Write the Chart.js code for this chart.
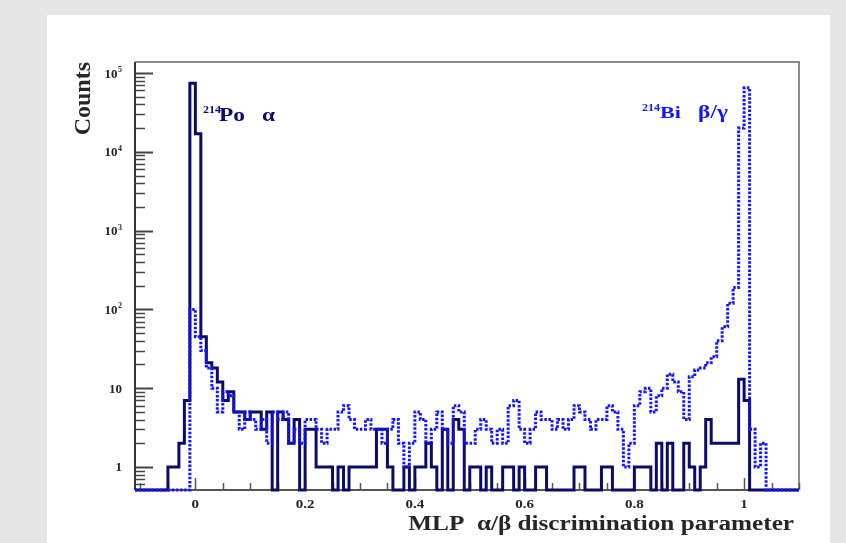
<!DOCTYPE html>
<html>
<head>
<meta charset="utf-8">
<script src="https://cdn.jsdelivr.net/npm/chart.js@4/dist/chart.umd.min.js"></script>
<style>
  html, body { margin: 0; padding: 0; background: #e6e6e6; }
  body { width: 846px; height: 543px; position: relative; overflow: hidden; }
  #panel { position: absolute; left: 47px; top: 15px; width: 783px; height: 528px; background: #ffffff; }
  #plot { position: absolute; left: 0; top: 0; }
</style>
</head>
<body>
<div id="panel"></div>
<canvas id="plot" width="846" height="543"></canvas>
<script>
// Histogram binning: 121 bins of width 0.01 starting at -0.11
const binLow = -0.11;
const binWidth = 0.01;

// 214Po alpha events per bin (solid line)
const alphaCounts = [
  0, 0, 0, 0, 0, 0, 1, 1, 2, 7,                 // -0.11 .. -0.02
  74000, 17000, 45, 21, 18, 12, 7, 9, 5, 5,     // -0.01 .. 0.08
  4, 5, 5, 3, 5, 0, 5, 4, 2, 4,                 // 0.09 .. 0.18
  0, 3, 3, 1, 1, 1, 0, 1, 0, 1,                 // 0.19 .. 0.28
  1, 1, 1, 1, 3, 3, 1, 0, 0, 1,                 // 0.29 .. 0.38
  0, 1, 1, 2, 1, 0, 3, 0, 4, 3,                 // 0.39 .. 0.48
  0, 1, 1, 0, 1, 0, 0, 1, 1, 0,                 // 0.49 .. 0.58
  1, 0, 0, 1, 1, 0, 0, 0, 0, 0,                 // 0.59 .. 0.68
  1, 1, 0, 0, 0, 1, 1, 0, 0, 0,                 // 0.69 .. 0.78
  0, 1, 1, 1, 0, 2, 0, 2, 0, 0,                 // 0.79 .. 0.88
  2, 1, 0, 1, 4, 2, 2, 2, 2, 2,                 // 0.89 .. 0.98
  13, 7, 0, 0, 0, 0, 0, 0, 0, 0,                // 0.99 .. 1.08
  0                                             // 1.09
];

// 214Bi beta/gamma events per bin (dotted line)
const betaCounts = [
  0, 0, 0, 0, 0, 0, 0, 0, 0, 0,                 // -0.11 .. -0.02
  100, 45, 30, 18, 10, 5, 9, 8, 5, 3,           // -0.01 .. 0.08
  5, 4, 3, 4, 2, 5, 4, 5, 2, 3,                 // 0.09 .. 0.18
  2, 4, 4, 3, 2, 3, 3, 5, 6, 4,                 // 0.19 .. 0.28
  3, 3, 4, 3, 3, 2, 3, 4, 2, 1,                 // 0.29 .. 0.38
  2, 5, 4, 2, 3, 5, 3, 2, 6, 5,                 // 0.39 .. 0.48
  2, 2, 3, 4, 3, 2, 3, 2, 6, 7,                 // 0.49 .. 0.58
  3, 2, 3, 5, 4, 4, 3, 4, 3, 4,                 // 0.59 .. 0.68
  6, 5, 4, 3, 4, 4, 6, 5, 3, 1,                 // 0.69 .. 0.78
  2, 6, 9, 10, 5, 8, 10, 15, 12, 9,             // 0.79 .. 0.88
  4, 14, 17, 18, 21, 25, 40, 60, 120, 190,      // 0.89 .. 0.98
  20000, 65000, 3, 1, 2, 0, 0, 0, 0, 0,         // 0.99 .. 1.08
  0                                             // 1.09
];

// Axis ranges and labelled ticks
const xRange = [-0.11, 1.10];
const yRange = [0.51, 1.38e5];
const xTickValues = [0, 0.2, 0.4, 0.6, 0.8, 1];
const xTickLabels = ['0', '0.2', '0.4', '0.6', '0.8', '1'];
const yTickValues = [1, 10, 100, 1000, 10000, 100000];
const yTickBase = ['1', '10', '10', '10', '10', '10'];
const yTickExp = ['', '', '2', '3', '4', '5'];

const SERIF = '"Liberation Serif", "DejaVu Serif", serif';
const TEXT = '#262626';
const ALPHA_COLOR = '#0b0b6b';
const BETA_COLOR = '#1414ff';

// Turn bin contents into step points at the bin edges; empty bins sit on the frame floor.
function histPoints(counts) {
  const pts = counts.map((c, k) => ({
    x: Math.round((binLow + k * binWidth) * 1000) / 1000,
    y: c > 0 ? c : yRange[0]
  }));
  const last = counts[counts.length - 1];
  pts.push({ x: Math.round((binLow + counts.length * binWidth) * 1000) / 1000, y: last > 0 ? last : yRange[0] });
  return pts;
}

// Draws text stretched horizontally by sx
function stretchedText(ctx, text, x, y, font, color, align, sx) {
  ctx.save();
  ctx.font = font;
  ctx.fillStyle = color;
  ctx.textBaseline = 'alphabetic';
  ctx.textAlign = 'left';
  const w = ctx.measureText(text).width * sx;
  const x0 = align === 'right' ? x - w : align === 'center' ? x - w / 2 : x;
  ctx.translate(x0, y);
  ctx.scale(sx, 1);
  ctx.fillText(text, 0, 0);
  ctx.restore();
  return w;
}

// Frame, inward ticks and labels in the classic ROOT look
const rootAxes = {
  id: 'rootAxes',
  beforeDatasetsDraw(chart) {
    const { ctx, chartArea: a, scales: { x, y } } = chart;
    ctx.save();
    ctx.lineCap = 'butt';
    // top and right frame edges
    ctx.strokeStyle = '#8c8c8c';
    ctx.lineWidth = 2;
    ctx.beginPath();
    ctx.moveTo(a.left, a.top);
    ctx.lineTo(a.right, a.top);
    ctx.lineTo(a.right, a.bottom);
    ctx.stroke();
    // y axis
    ctx.strokeStyle = '#333333';
    ctx.lineWidth = 2;
    ctx.beginPath();
    ctx.moveTo(a.left, a.top);
    ctx.lineTo(a.left, a.bottom);
    ctx.stroke();
    // x axis
    ctx.strokeStyle = '#555555';
    ctx.lineWidth = 2;
    ctx.beginPath();
    ctx.moveTo(a.left, a.bottom);
    ctx.lineTo(a.right, a.bottom);
    ctx.stroke();

    // log ticks on the y axis
    ctx.strokeStyle = '#444444';
    for (let d = -1; d <= 5; d++) {
      for (let m = 1; m <= 9; m++) {
        const v = m * Math.pow(10, d);
        if (v < yRange[0] || v > yRange[1]) continue;
        const py = Math.round(y.getPixelForValue(v)) + 0.5;
        const len = m === 1 ? 18 : 10;
        ctx.lineWidth = m === 1 ? 2 : 1.5;
        ctx.beginPath();
        ctx.moveTo(a.left, py);
        ctx.lineTo(a.left + len, py);
        ctx.stroke();
      }
    }
    // x ticks every 0.05, long ones every 0.2
    ctx.strokeStyle = '#555555';
    ctx.lineWidth = 1.5;
    for (let i = -2; i <= 22; i++) {
      const v = i * 0.05;
      if (v < xRange[0] || v > xRange[1]) continue;
      const px = Math.round(x.getPixelForValue(v)) + 0.5;
      const len = i % 4 === 0 ? 12 : 7;
      ctx.beginPath();
      ctx.moveTo(px, a.bottom);
      ctx.lineTo(px, a.bottom - len);
      ctx.stroke();
    }
    ctx.restore();
  },
  afterDraw(chart) {
    const { ctx, chartArea: a, scales: { x, y } } = chart;
    // y tick labels with raised exponents
    yTickValues.forEach((v, i) => {
      const py = y.getPixelForValue(v);
      const right = a.left - 13;
      if (yTickExp[i]) {
        const we = stretchedText(ctx, yTickExp[i], right, py - 1, 'bold 8px ' + SERIF, TEXT, 'right', 1);
        stretchedText(ctx, yTickBase[i], right - we - 0.5, py + 4.5, 'bold 13px ' + SERIF, TEXT, 'right', 1);
      } else {
        stretchedText(ctx, yTickBase[i], right, py + 4.5, 'bold 13px ' + SERIF, TEXT, 'right', 1);
      }
    });
    // x tick labels
    xTickValues.forEach((v, i) => {
      stretchedText(ctx, xTickLabels[i], x.getPixelForValue(v), a.bottom + 18, 'bold 12px ' + SERIF, TEXT, 'center', 1.25);
    });
    // axis titles
    stretchedText(ctx, 'MLP  \u03b1/\u03b2 discrimination parameter', a.right - 5, a.bottom + 40, 'bold 20px ' + SERIF, TEXT, 'right', 1.26);
    ctx.save();
    ctx.translate(a.left - 45, a.top);
    ctx.rotate(-Math.PI / 2);
    ctx.font = 'bold 24px ' + SERIF;
    ctx.fillStyle = TEXT;
    ctx.textAlign = 'right';
    ctx.textBaseline = 'alphabetic';
    ctx.fillText('Counts', 0, 0);
    ctx.restore();

    // peak annotations, anchored in data space
    const poX = x.getPixelForValue(0.014), poY = y.getPixelForValue(2.46e4);
    stretchedText(ctx, '214', poX, poY - 8, 'bold 10px ' + SERIF, ALPHA_COLOR, 'left', 1.2);
    stretchedText(ctx, 'Po', poX + 16, poY, 'bold 18px ' + SERIF, ALPHA_COLOR, 'left', 1.3);
    stretchedText(ctx, '\u03b1', poX + 59, poY, 'bold 18px ' + SERIF, ALPHA_COLOR, 'left', 1.3);

    const biX = x.getPixelForValue(0.814), biY = y.getPixelForValue(2.69e4);
    stretchedText(ctx, '214', biX, biY - 7, 'bold 10px ' + SERIF, BETA_COLOR, 'left', 1.2);
    stretchedText(ctx, 'Bi', biX + 18, biY, 'bold 17px ' + SERIF, BETA_COLOR, 'left', 1.3);
    stretchedText(ctx, '\u03b2/\u03b3', biX + 56, biY, 'bold 18px ' + SERIF, BETA_COLOR, 'left', 1.3);
  }
};

new Chart(document.getElementById('plot'), {
  type: 'line',
  data: {
    datasets: [
      {
        label: '214Bi \u03b2/\u03b3',
        data: histPoints(betaCounts),
        stepped: 'before',
        borderColor: BETA_COLOR,
        borderWidth: 3,
        borderDash: [2.5, 1.6],
        borderJoinStyle: 'miter',
        pointRadius: 0,
        fill: false,
        clip: 4
      },
      {
        label: '214Po \u03b1',
        data: histPoints(alphaCounts),
        stepped: 'before',
        borderColor: ALPHA_COLOR,
        borderWidth: 3,
        borderJoinStyle: 'miter',
        pointRadius: 0,
        fill: false,
        clip: 4
      }
    ]
  },
  options: {
    responsive: false,
    animation: false,
    devicePixelRatio: 1,
    layout: { padding: { left: 135, top: 62, right: 47, bottom: 53 } },
    scales: {
      x: { type: 'linear', min: xRange[0], max: xRange[1], bounds: 'data', display: false },
      y: { type: 'logarithmic', min: yRange[0], max: yRange[1], bounds: 'data', display: false }
    },
    plugins: { legend: { display: false }, tooltip: { enabled: false } }
  },
  plugins: [rootAxes]
});
</script>
</body>
</html>
